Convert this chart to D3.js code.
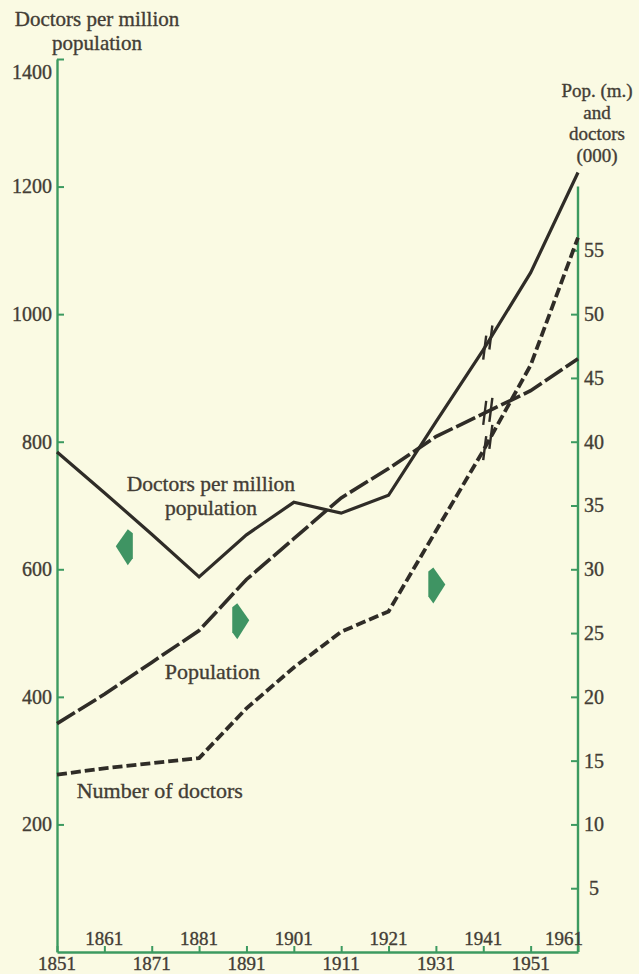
<!DOCTYPE html>
<html><head><meta charset="utf-8">
<script src="https://cdn.jsdelivr.net/npm/d3@7"></script>
<style>
html,body{margin:0;padding:0;background:#fafae3;}
svg{display:block;}
text{font-family:"Liberation Serif","Times New Roman",serif;fill:#433d35;stroke:#433d35;stroke-width:0.35px;}
</style></head><body>
<svg id="chart" width="639" height="974"></svg>
<script>
// ---- data ----
const years = [1851,1861,1871,1881,1891,1901,1911,1921,1931,1941,1951,1961];
const doctorsPerMillion = [784,720,655,588,654,705,688,716,831,944,1065,1222];
const populationMillions = [17.9,20.2,22.7,25.2,29.2,32.4,35.6,37.9,40.4,42.2,44.0,46.5];
const doctorsThousands = [13.9,14.4,14.8,15.2,19.1,22.3,25.1,26.7,33.0,39.3,46.0,56.0];
const leftTicks = [200,400,600,800,1000,1200,1400];
const rightTicks = [5,10,15,20,25,30,35,40,45,50,55];
const xTickYears = [1851,1861,1871,1881,1891,1901,1911,1921,1931,1941,1951,1961];
const breakYear = 1941;

const GREEN = "#3c9a60", INK = "#2f2c27", TXT = "#433d35";
const svg = d3.select("#chart");

const x = d3.scaleLinear().domain([1851,1961]).range([57,578]);
const yL = d3.scaleLinear().domain([0,1400]).range([952,59]);
const yR = d3.scaleLinear().domain([0,70]).range([952,59]);
const fmt = d3.format("d");

// ---- left axis ----
const gL = svg.append("g").attr("transform",`translate(${x(1851)},0)`)
  .call(d3.axisLeft(yL).tickValues(leftTicks).tickFormat(fmt).tickSizeInner(-7).tickSizeOuter(0).tickPadding(5));
gL.attr("font-family",null).attr("font-size",null);
gL.select(".domain").attr("stroke",GREEN).attr("stroke-width",2.4);
gL.selectAll(".tick line").attr("stroke",GREEN).attr("stroke-width",2);
gL.selectAll(".tick text").attr("font-size",20).attr("fill",TXT)
  .attr("dy",d=>d===1400?"0.95em":"0.32em");

// ---- right axis ----
const gR = svg.append("g").attr("transform",`translate(${x(1961)},0)`)
  .call(d3.axisRight(yR).tickValues(rightTicks).tickFormat(fmt).tickSizeInner(-7).tickSizeOuter(0).tickPadding(0));
gR.attr("font-family",null).attr("font-size",null);
gR.select(".domain").remove();
gR.append("line").attr("x1",0).attr("x2",0).attr("y1",yR(0)).attr("y2",yR(60))
  .attr("stroke",GREEN).attr("stroke-width",2.4);
gR.selectAll(".tick line").attr("stroke",GREEN).attr("stroke-width",2);
gR.selectAll(".tick text").attr("font-size",20).attr("fill",TXT)
  .attr("text-anchor","middle").attr("x",16);

// ---- bottom axis ----
const gB = svg.append("g").attr("transform",`translate(0,${yL(0)})`)
  .call(d3.axisBottom(x).tickValues(xTickYears).tickSizeInner(-6).tickSizeOuter(0).tickFormat(""));
gB.select(".domain").attr("stroke",GREEN).attr("stroke-width",2.4);
gB.selectAll(".tick line").attr("stroke",GREEN).attr("stroke-width",2);
svg.append("g").selectAll("text").data(xTickYears).join("text")
  .attr("x",(d,i)=>x(d) + (i===xTickYears.length-1 ? -14 : 0))
  .attr("y",(d,i)=> i%2===1 ? yL(0)-7 : yL(0)+18)
  .attr("text-anchor","middle").attr("font-size",19).text(d=>d);

// ---- axis titles ----
const tl = svg.append("text").attr("text-anchor","middle").attr("font-size",21);
tl.append("tspan").attr("x",97).attr("y",26).text("Doctors per million");
tl.append("tspan").attr("x",97).attr("y",49.5).text("population");
const tr = svg.append("text").attr("text-anchor","middle").attr("font-size",19);
["Pop. (m.)","and","doctors","(000)"].forEach((s,i)=>
  tr.append("tspan").attr("x",597).attr("y",97+i*21.5).text(s));

// ---- lines ----
function lineFor(vals, scale){
  return d3.line().x((d,i)=>x(years[i])).y(d=>scale(d))(vals);
}
svg.append("path").attr("d",lineFor(populationMillions,yR))
  .attr("fill","none").attr("stroke",INK).attr("stroke-width",3.6)
  .attr("stroke-dasharray","21,4");
svg.append("path").attr("d",lineFor(doctorsThousands,yR))
  .attr("fill","none").attr("stroke",INK).attr("stroke-width",3.8)
  .attr("stroke-dasharray","10,4");
svg.append("path").attr("d",lineFor(doctorsPerMillion,yL))
  .attr("fill","none").attr("stroke",INK).attr("stroke-width",3.2)
  .attr("stroke-linejoin","miter");

// ---- break marks at 1941 ----
function valueAt(vals, yr){
  const i = d3.bisectRight(years, yr) - 1;
  const t = (yr - years[i])/(years[i+1]-years[i]);
  return vals[i] + t*(vals[i+1]-vals[i]);
}
[[doctorsPerMillion,yL],[populationMillions,yR],[doctorsThousands,yR]].forEach(([vals,sc])=>{
  [0.3,1.6].forEach(off=>{
    const yr = breakYear + off;
    const px = x(yr), py = sc(valueAt(vals,yr));
    svg.append("line").attr("x1",px+1.5).attr("y1",py-12).attr("x2",px-1.5).attr("y2",py+12)
      .attr("stroke",INK).attr("stroke-width",2.4);
  });
});

// ---- arrows ----
function arrow(px, py, dir){
  const pts = [[0,-13],[5,-17],[17,0],[5,19],[0,12]].map(([a,b])=>[px+dir*a, py+b]);
  svg.append("path").attr("d","M"+pts.map(p=>p.join(",")).join("L")+"Z").attr("fill","#3f9463");
}
arrow(x(1867.0), yL(636), -1);
arrow(x(1888.0), yR(26.0), 1);
arrow(x(1929.4), yR(28.8), 1);

// ---- series labels ----
const l1 = svg.append("text").attr("text-anchor","middle").attr("font-size",21.5);
l1.append("tspan").attr("x",x(1883.5)).attr("y",yL(721)-1).text("Doctors per million");
l1.append("tspan").attr("x",x(1883.5)).attr("y",yL(721)+23).text("population");
svg.append("text").attr("text-anchor","middle").attr("font-size",22)
  .attr("x",x(1883.8)).attr("y",yR(21.4)).text("Population");
svg.append("text").attr("text-anchor","middle").attr("font-size",22)
  .attr("x",x(1872.7)).attr("y",yR(12.07)).text("Number of doctors");
</script>
</body></html>
